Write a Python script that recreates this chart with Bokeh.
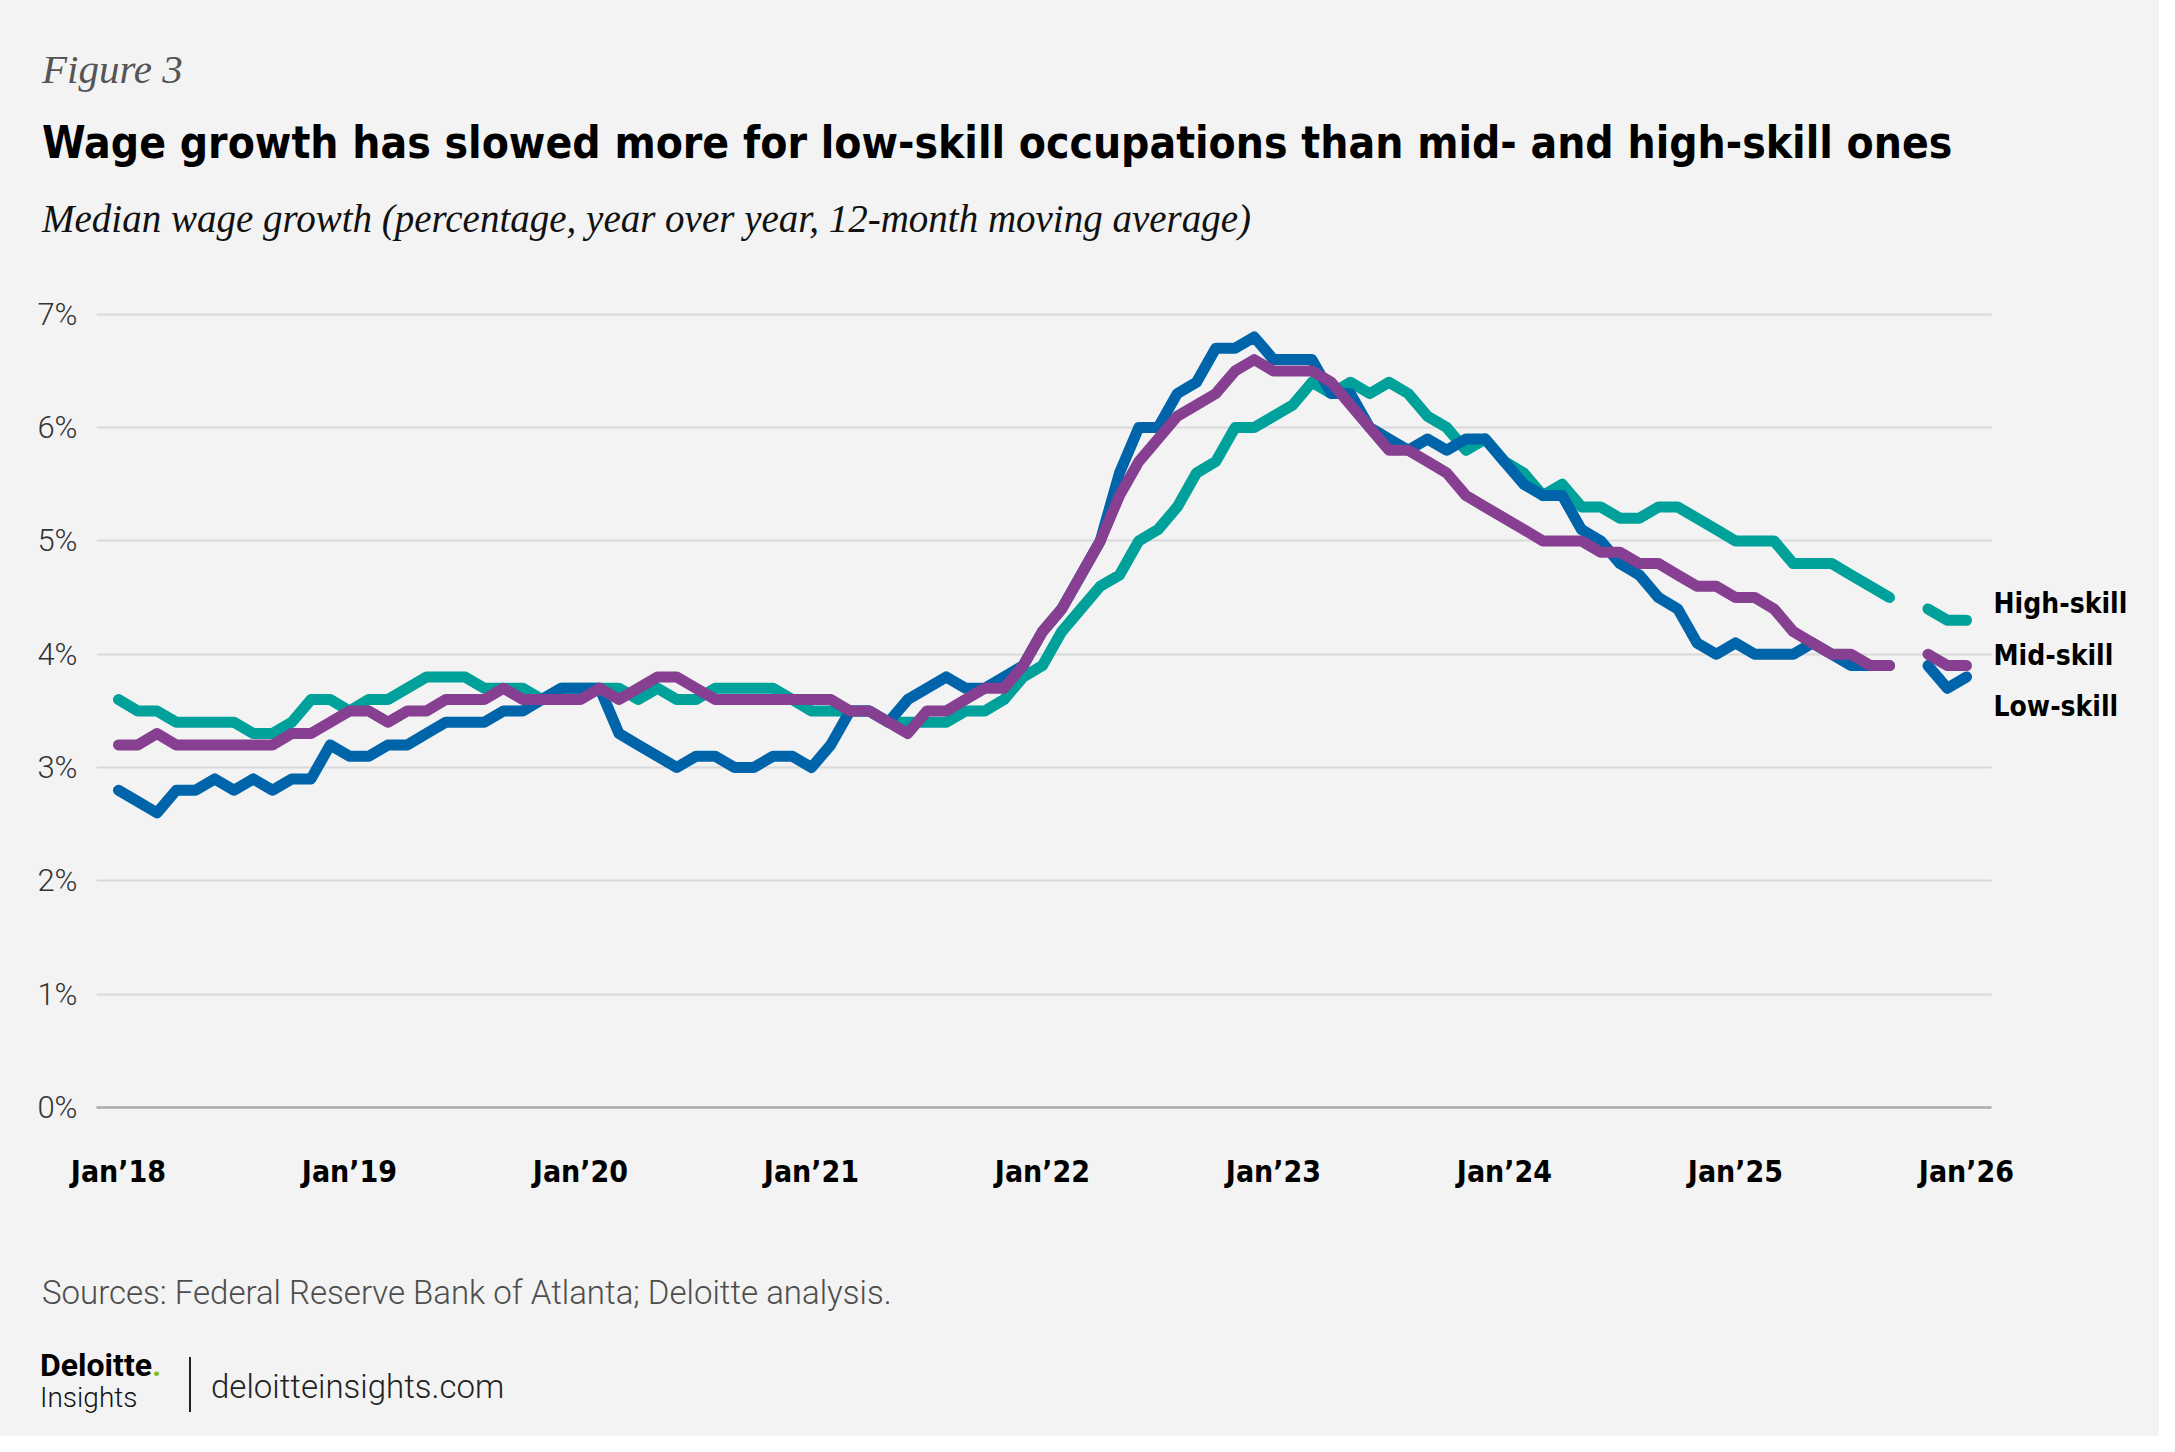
import numpy as np
from bokeh.plotting import figure
from bokeh.layouts import column
from bokeh.models import Label, FixedTicker, PrintfTickFormatter, Range1d, ColumnDataSource, Div
from bokeh.embed import file_html
from bokeh.resources import INLINE

nan = float("nan")

# Monthly observations, Jan 2018 .. Jan 2026 (Oct 2025 not available)
month_labels = ["Jan’18", "Jan’19", "Jan’20", "Jan’21", "Jan’22",
                "Jan’23", "Jan’24", "Jan’25", "Jan’26"]

low_skill = [
    2.8, 2.7, 2.6, 2.8, 2.8, 2.9, 2.8, 2.9, 2.8, 2.9, 2.9, 3.2,
    3.1, 3.1, 3.2, 3.2, 3.3, 3.4, 3.4, 3.4, 3.5, 3.5, 3.6, 3.7,
    3.7, 3.7, 3.3, 3.2, 3.1, 3.0, 3.1, 3.1, 3.0, 3.0, 3.1, 3.1,
    3.0, 3.2, 3.5, 3.5, 3.4, 3.6, 3.7, 3.8, 3.7, 3.7, 3.8, 3.9,
    4.2, 4.4, 4.7, 5.0, 5.6, 6.0, 6.0, 6.3, 6.4, 6.7, 6.7, 6.8,
    6.6, 6.6, 6.6, 6.3, 6.3, 6.0, 5.9, 5.8, 5.9, 5.8, 5.9, 5.9,
    5.7, 5.5, 5.4, 5.4, 5.1, 5.0, 4.8, 4.7, 4.5, 4.4, 4.1, 4.0,
    4.1, 4.0, 4.0, 4.0, 4.1, 4.0, 3.9, 3.9, 3.9, nan, 3.9, 3.7,
    3.8,
]

mid_skill = [
    3.2, 3.2, 3.3, 3.2, 3.2, 3.2, 3.2, 3.2, 3.2, 3.3, 3.3, 3.4,
    3.5, 3.5, 3.4, 3.5, 3.5, 3.6, 3.6, 3.6, 3.7, 3.6, 3.6, 3.6,
    3.6, 3.7, 3.6, 3.7, 3.8, 3.8, 3.7, 3.6, 3.6, 3.6, 3.6, 3.6,
    3.6, 3.6, 3.5, 3.5, 3.4, 3.3, 3.5, 3.5, 3.6, 3.7, 3.7, 3.9,
    4.2, 4.4, 4.7, 5.0, 5.4, 5.7, 5.9, 6.1, 6.2, 6.3, 6.5, 6.6,
    6.5, 6.5, 6.5, 6.4, 6.2, 6.0, 5.8, 5.8, 5.7, 5.6, 5.4, 5.3,
    5.2, 5.1, 5.0, 5.0, 5.0, 4.9, 4.9, 4.8, 4.8, 4.7, 4.6, 4.6,
    4.5, 4.5, 4.4, 4.2, 4.1, 4.0, 4.0, 3.9, 3.9, nan, 4.0, 3.9,
    3.9,
]

high_skill = [
    3.6, 3.5, 3.5, 3.4, 3.4, 3.4, 3.4, 3.3, 3.3, 3.4, 3.6, 3.6,
    3.5, 3.6, 3.6, 3.7, 3.8, 3.8, 3.8, 3.7, 3.7, 3.7, 3.6, 3.7,
    3.7, 3.7, 3.7, 3.6, 3.7, 3.6, 3.6, 3.7, 3.7, 3.7, 3.7, 3.6,
    3.5, 3.5, 3.5, 3.5, 3.4, 3.4, 3.4, 3.4, 3.5, 3.5, 3.6, 3.8,
    3.9, 4.2, 4.4, 4.6, 4.7, 5.0, 5.1, 5.3, 5.6, 5.7, 6.0, 6.0,
    6.1, 6.2, 6.4, 6.3, 6.4, 6.3, 6.4, 6.3, 6.1, 6.0, 5.8, 5.9,
    5.7, 5.6, 5.4, 5.5, 5.3, 5.3, 5.2, 5.2, 5.3, 5.3, 5.2, 5.1,
    5.0, 5.0, 5.0, 4.8, 4.8, 4.8, 4.7, 4.6, 4.5, nan, 4.4, 4.3,
    4.3,
]

series_names = ["High-skill", "Mid-skill", "Low-skill"]
label_levels = [4.45, 3.99, 3.54]   # vertical spots of the end labels (% units)
y_ticks = [0, 1, 2, 3, 4, 5, 6, 7]

BG = "#F2F3F2"
C_HIGH = "#00A09B"
C_MID = "#874091"
C_LOW = "#0064AA"

COND = "'Liberation Sans Narrow', 'DejaVu Sans Condensed', 'DejaVu Sans', sans-serif"
LIGHT = "'Roboto Light', Roboto, sans-serif"
SERIF = "'Liberation Serif', 'DejaVu Serif', serif"

W = 2159


def span(text, X, Y, size, font, style="normal", weight="normal", color="#000000", lh=1.15):
    return (f'<span style="position:absolute;left:{X}px;top:{Y}px;'
            f'transform:translateY(-50%);white-space:nowrap;line-height:{lh};'
            f'font-family:{font};font-size:{size}px;font-style:{style};'
            f'font-weight:{weight};color:{color};">{text}</span>')


def box(height, inner):
    html = (f'<div style="position:relative;width:{W}px;height:{height}px;'
            f'margin:0;padding:0;background:{BG};overflow:hidden;">{inner}</div>')
    return Div(text=html, width=W, height=height, margin=(0, 0, 0, 0),
               styles={"background-color": BG})


# ---------------- header ----------------
HEAD_H = 290
head = box(HEAD_H, "".join([
    span("Figure 3", 42, 70, 41, SERIF, "italic", "normal", "#555555"),
    span("Wage growth has slowed more for low-skill occupations than mid- and high-skill ones",
         42, 143, 44, COND, "normal", "bold", "#000000"),
    span("Median wage growth (percentage, year over year, 12-month moving average)",
         42, 219, 39, SERIF, "italic", "normal", "#111111"),
]))

# ---------------- main chart ----------------
MAIN_H = 920
FRAME_L = 96
MONTH_PX = 19.25
X0_PX = 118
x_start = (FRAME_L - X0_PX) / MONTH_PX
x_end = (W - X0_PX) / MONTH_PX
x_axis_end = (1991 - X0_PX) / MONTH_PX

x = np.arange(len(low_skill))
src = ColumnDataSource(dict(x=x, low=low_skill, mid=mid_skill, high=high_skill))

p = figure(width=W, height=MAIN_H, output_backend="svg", toolbar_location=None,
           x_range=Range1d(x_start, x_end), y_range=Range1d(0, 7.21),
           min_border_left=FRAME_L, min_border_right=0, min_border_top=0,
           min_border_bottom=103, background_fill_color=BG, border_fill_color=BG,
           outline_line_color=None, styles={"background-color": BG})

for col, color in (("high", C_HIGH), ("low", C_LOW), ("mid", C_MID)):
    p.line("x", col, source=src, line_color=color, line_width=11,
           line_join="round", line_cap="round")

p.xaxis.ticker = FixedTicker(ticks=[12 * i for i in range(len(month_labels))])
p.xaxis.major_label_overrides = {12 * i: lab for i, lab in enumerate(month_labels)}
p.xaxis.bounds = (x_start, x_axis_end)
p.xaxis.axis_line_color = "#A9A9A9"
p.xaxis.axis_line_width = 2.5
p.xaxis.major_tick_line_color = None
p.xaxis.minor_tick_line_color = None
p.xaxis.major_label_standoff = 40
p.xaxis.major_label_text_font = COND
p.xaxis.major_label_text_font_style = "bold"
p.xaxis.major_label_text_font_size = "30px"
p.xaxis.major_label_text_color = "#000000"

p.yaxis.ticker = FixedTicker(ticks=y_ticks)
p.yaxis.formatter = PrintfTickFormatter(format="%d%%")
p.yaxis.axis_line_color = None
p.yaxis.major_tick_line_color = None
p.yaxis.minor_tick_line_color = None
p.yaxis.major_label_standoff = 13
p.yaxis.major_label_text_font = LIGHT
p.yaxis.major_label_text_font_size = "31px"
p.yaxis.major_label_text_color = "#333333"

p.xgrid.visible = False
p.ygrid.grid_line_color = "#D9D9D9"
p.ygrid.grid_line_width = 2
p.ygrid.cross_bounds = (x_start, x_axis_end)

label_x = (1993 - X0_PX) / MONTH_PX
for name, lvl in zip(series_names, label_levels):
    p.add_layout(Label(x=label_x, y=lvl, text=name, text_font=COND,
                       text_font_style="bold", text_font_size="28px",
                       text_color="#000000", text_baseline="middle", text_align="left"))

# ---------------- footer ----------------
FOOT_TOP = HEAD_H + MAIN_H
FOOT_H = 1436 - FOOT_TOP
logo = (f'<span style="position:absolute;left:40px;top:{1366 - FOOT_TOP}px;'
        f'transform:translateY(-50%);white-space:nowrap;line-height:0.85;'
        f'font-family:Roboto, sans-serif;font-size:32px;font-weight:bold;color:#000000;">'
        f'Deloitte<span style="color:#86BC25;">.</span></span>')
bar = (f'<span style="position:absolute;left:189px;top:{1357 - FOOT_TOP}px;'
       f'width:2px;height:55px;background:#222222;"></span>')
foot = box(FOOT_H, "".join([
    span("Sources: Federal Reserve Bank of Atlanta; Deloitte analysis.", 42,
         1293 - FOOT_TOP, 33, LIGHT, "normal", "normal", "#4D4D4D"),
    logo,
    span("Insights", 40, 1398 - FOOT_TOP, 28, LIGHT, "normal", "normal", "#111111", 0.85),
    bar,
    span("deloitteinsights.com", 211, 1387 - FOOT_TOP, 33, LIGHT, "normal", "normal", "#222222"),
]))

layout = column(head, p, foot, spacing=0, styles={"background-color": BG})
html = file_html(layout, INLINE)
html = html.replace("<body>", f'<body style="background:{BG};">', 1)
open("out.html", "w").write(html)
